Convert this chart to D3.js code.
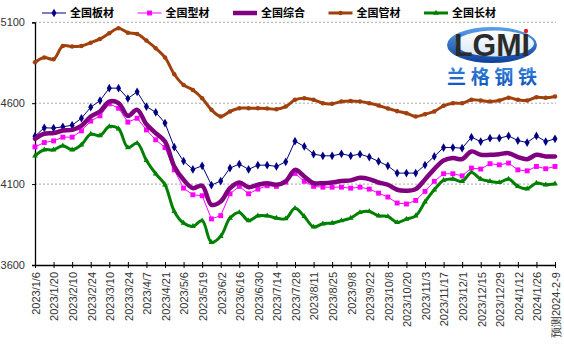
<!DOCTYPE html>
<html>
<head>
<meta charset="utf-8">
<script src="https://cdn.jsdelivr.net/npm/d3@7"></script>
<style>
  html, body { margin: 0; padding: 0; background: #fff; }
  svg { display: block; }
</style>
</head>
<body>
<svg id="chart" width="564" height="347"></svg>
<script>
// Weekly price dates (the last point is a forecast)
const dates = [
  "2023/1/6","2023/1/13","2023/1/20","2023/2/3","2023/2/10","2023/2/17","2023/2/24","2023/3/3",
  "2023/3/10","2023/3/17","2023/3/24","2023/3/31","2023/4/7","2023/4/14","2023/4/21","2023/4/28",
  "2023/5/6","2023/5/12","2023/5/19","2023/5/26","2023/6/2","2023/6/9","2023/6/16","2023/6/21",
  "2023/6/30","2023/7/7","2023/7/14","2023/7/21","2023/7/28","2023/8/4","2023/8/11","2023/8/18",
  "2023/8/25","2023/9/1","2023/9/8","2023/9/15","2023/9/22","2023/9/28","2023/10/8","2023/10/13",
  "2023/10/20","2023/10/27","2023/11/3","2023/11/10","2023/11/17","2023/11/24","2023/12/1","2023/12/8",
  "2023/12/15","2023/12/22","2023/12/29","2024/1/5","2024/1/12","2024/1/19","2024/1/26","2024/2/2",
  "预测2024-2-9"
];

// Price index series
const plate = [
  4396,4448,4446,4454,4464,4507,4575,4616,4693,4693,4629,4670,4579,4544,4477,
  4328,4242,4191,4213,4094,4119,4199,4224,4191,4217,4217,4209,4238,4365,
  4333,4285,4275,4275,4287,4275,4285,4267,4240,4213,4168,4168,4168,4218,
  4271,4326,4326,4322,4390,4363,4384,4384,4398,4369,4357,4398,4363,4380
];
const section = [
  4330,4357,4367,4390,4390,4429,4489,4522,4596,4569,4483,4507,4435,4374,4326,
  4188,4075,4034,4028,3885,3905,4040,4086,4040,4069,4090,4086,4112,4166,
  4117,4086,4081,4081,4081,4075,4081,4069,4044,4020,3983,3977,3999,4055,
  4117,4164,4164,4151,4199,4193,4226,4219,4230,4188,4182,4209,4195,4209
];
const composite = [
  4380,4411,4415,4431,4435,4460,4518,4549,4610,4600,4522,4559,4470,4415,4363,
  4209,4127,4075,4090,3972,3993,4075,4110,4081,4096,4106,4096,4117,4188,
  4147,4106,4106,4110,4119,4123,4139,4131,4110,4096,4065,4059,4069,4129,
  4193,4246,4261,4254,4302,4281,4281,4285,4291,4267,4254,4281,4271,4271
];
const pipe = [
  4853,4882,4872,4954,4950,4954,4974,4997,5032,5063,5036,5028,4987,4940,4883,
  4779,4713,4682,4631,4559,4518,4549,4569,4569,4569,4567,4563,4579,4621,
  4631,4621,4600,4596,4610,4614,4610,4600,4586,4567,4551,4538,4518,4532,
  4549,4584,4600,4600,4621,4617,4610,4617,4633,4621,4617,4637,4633,4641
];
const longSteel = [
  4275,4312,4312,4337,4312,4343,4409,4400,4456,4442,4326,4353,4246,4164,4096,
  3931,3859,3839,3874,3740,3777,3890,3925,3874,3904,3904,3890,3886,3950,
  3900,3835,3855,3859,3874,3890,3925,3931,3904,3900,3863,3884,3904,3990,
  4065,4123,4131,4117,4172,4131,4117,4110,4131,4086,4071,4106,4096,4102
];

const yTicks = [3600, 4100, 4600, 5100];

const series = [
  { name: "全国板材", values: plate,     color: "#000080", width: 1,   marker: "diamond",  smooth: false },
  { name: "全国型材", values: section,   color: "#ff00ff", width: 1,   marker: "square",   smooth: false },
  { name: "全国综合", values: composite, color: "#800080", width: 4.5, marker: null,       smooth: true  },
  { name: "全国管材", values: pipe,      color: "#a0400c", width: 3,   marker: "circle",   smooth: true  },
  { name: "全国长材", values: longSteel, color: "#008000", width: 3,   marker: "triangle", smooth: true  }
];

const svg = d3.select("#chart");
const plotLeft = 35, plotRight = 555, plotTop = 22.3, plotBottom = 265;

const x = d3.scalePoint().domain(d3.range(dates.length)).range([plotLeft, plotRight]);
const y = d3.scaleLinear().domain([3600, 5100]).range([plotBottom, plotTop]);

// Dashed grid lines
svg.append("g")
  .selectAll("line")
  .data(yTicks.filter(v => v > 3600))
  .join("line")
  .attr("x1", plotLeft).attr("x2", plotRight + 1)
  .attr("y1", d => y(d)).attr("y2", d => y(d))
  .attr("stroke", "#a8a8a8")
  .attr("stroke-width", 1)
  .attr("stroke-dasharray", "2,2");

// Y axis
const yAxis = svg.append("g")
  .attr("transform", `translate(${plotLeft},0)`)
  .call(d3.axisLeft(y).tickValues(yTicks).tickSize(3).tickPadding(7).tickFormat(d3.format("d")));
yAxis.select(".domain").attr("stroke", "#000").attr("stroke-width", 1.3);
yAxis.selectAll(".tick line").attr("stroke", "#000");
yAxis.selectAll("text")
  .attr("font-family", "Arial, 'Liberation Sans', sans-serif")
  .attr("font-size", 11)
  .attr("fill", "#333");

// X axis with every second date labelled
const labelIdx = d3.range(0, dates.length, 2);
const xAxis = svg.append("g")
  .attr("transform", `translate(0,${plotBottom})`)
  .call(d3.axisBottom(x).tickValues(labelIdx).tickSize(3).tickSizeOuter(0).tickFormat(i => dates[i]));
xAxis.select(".domain").attr("stroke", "#000").attr("stroke-width", 1.3);
xAxis.selectAll(".tick line").attr("stroke", "#000").attr("y1", -3);
xAxis.selectAll("text")
  .attr("font-family", "Arial, 'Liberation Sans', sans-serif")
  .attr("font-size", 11)
  .attr("fill", "#333")
  .attr("transform", "rotate(-90)")
  .attr("text-anchor", "end")
  .attr("x", -7)
  .attr("y", 0)
  .attr("dy", "0.4em");

// Marker shapes
const symbolFor = {
  diamond:  d3.symbol().type(d3.symbolDiamond).size(22),
  square:   d3.symbol().type(d3.symbolSquare).size(24),
  circle:   d3.symbol().type(d3.symbolCircle).size(16),
  triangle: d3.symbol().type(d3.symbolTriangle).size(14)
};

// Series lines and markers
series.forEach(s => {
  const line = d3.line()
    .x((d, i) => x(i))
    .y(d => y(d))
    .curve(s.smooth ? d3.curveCatmullRom.alpha(0.5) : d3.curveLinear);
  const g = svg.append("g");
  g.append("path")
    .datum(s.values)
    .attr("d", line)
    .attr("fill", "none")
    .attr("stroke", s.color)
    .attr("stroke-width", s.width)
    .attr("stroke-linejoin", "round")
    .attr("stroke-linecap", "round");
  if (s.marker) {
    g.selectAll("path.m")
      .data(s.values)
      .join("path")
      .attr("class", "m")
      .attr("d", symbolFor[s.marker]())
      .attr("transform", (d, i) => `translate(${x(i)},${y(d)})`)
      .attr("fill", s.color);
  }
});

// Legend
const legend = svg.append("g");
series.forEach((s, k) => {
  const lx = 42 + k * 95.5, ly = 13;
  const item = legend.append("g");
  item.append("line")
    .attr("x1", lx).attr("x2", lx + 24)
    .attr("y1", ly).attr("y2", ly)
    .attr("stroke", s.color)
    .attr("stroke-width", s.width);
  if (s.marker) {
    item.append("path")
      .attr("d", symbolFor[s.marker]())
      .attr("transform", `translate(${lx + 12},${ly})`)
      .attr("fill", s.color);
  }
  item.append("text")
    .attr("x", lx + 28).attr("y", ly)
    .attr("dy", "0.36em")
    .attr("font-family", "'Noto Sans CJK SC', sans-serif")
    .attr("font-weight", "bold")
    .attr("font-size", 11)
    .attr("fill", "#000")
    .text(s.name);
});

// Brand logo
const defs = svg.append("defs");
const ringGrad = defs.append("linearGradient").attr("id", "ring").attr("x1", 0).attr("y1", 0).attr("x2", 0).attr("y2", 1);
ringGrad.append("stop").attr("offset", "0%").attr("stop-color", "#5aa0ea");
ringGrad.append("stop").attr("offset", "100%").attr("stop-color", "#0d3f9a");
const innerGrad = defs.append("linearGradient").attr("id", "inner").attr("x1", 0).attr("y1", 0).attr("x2", 0).attr("y2", 1);
innerGrad.append("stop").attr("offset", "0%").attr("stop-color", "#ffffff");
innerGrad.append("stop").attr("offset", "100%").attr("stop-color", "#d7e7f7");
const textGrad = defs.append("linearGradient").attr("id", "brand").attr("x1", 0).attr("y1", 0).attr("x2", 0).attr("y2", 1);
textGrad.append("stop").attr("offset", "0%").attr("stop-color", "#3f8fe6");
textGrad.append("stop").attr("offset", "100%").attr("stop-color", "#0b4fb8");

const logo = svg.append("g");
logo.append("ellipse").attr("cx", 492).attr("cy", 45).attr("rx", 45).attr("ry", 18).attr("fill", "url(#ring)");
logo.append("ellipse").attr("cx", 495).attr("cy", 43.5).attr("rx", 39).attr("ry", 13).attr("fill", "url(#inner)");
logo.append("text")
  .attr("x", 454).attr("y", 56)
  .attr("font-family", "'Liberation Sans', Arial, sans-serif")
  .attr("font-weight", "bold")
  .attr("font-size", 31)
  .attr("textLength", 76)
  .attr("lengthAdjust", "spacingAndGlyphs")
  .attr("fill", "#2b2b2b")
  .text("LGMI");
logo.append("circle").attr("cx", 526).attr("cy", 31).attr("r", 2.2).attr("fill", "#e02020");
logo.append("text")
  .attr("x", 447).attr("y", 84)
  .attr("font-family", "'Noto Sans CJK SC', sans-serif")
  .attr("font-weight", "bold")
  .attr("font-size", 19)
  .attr("textLength", 90)
  .attr("lengthAdjust", "spacing")
  .attr("fill", "url(#brand)")
  .text("兰格钢铁");
</script>
</body>
</html>
